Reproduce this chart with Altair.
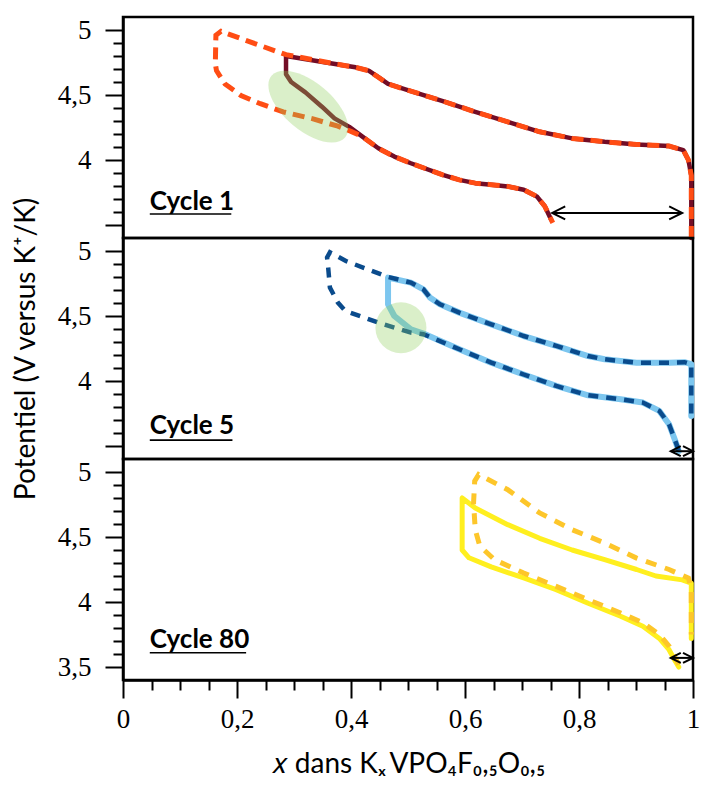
import altair as alt
import pandas as pd

# ---------------- data ----------------
# Cycle 1 : solid (dark red) and dashed (orange)
c1_solid_x = [0.997, 0.997, 0.992, 0.983, 0.958, 0.901, 0.845, 0.788, 0.731, 0.675, 0.618, 0.561, 0.505,
              0.465, 0.448, 0.431, 0.408, 0.391, 0.286, 0.286, 0.295, 0.320, 0.349, 0.371, 0.397, 0.420,
              0.448, 0.476, 0.505, 0.561, 0.590, 0.618, 0.646, 0.675, 0.703, 0.726, 0.740, 0.751]
c1_solid_y = [3.40, 3.88, 4.00, 4.076, 4.107, 4.12, 4.14, 4.166, 4.217, 4.293, 4.37, 4.453, 4.53,
              4.585, 4.637, 4.687, 4.713, 4.725, 4.80, 4.66, 4.60, 4.52, 4.41, 4.32, 4.255, 4.18,
              4.09, 4.026, 3.975, 3.885, 3.847, 3.822, 3.81, 3.797, 3.771, 3.72, 3.644, 3.542]
c1_dash_x = [0.997, 0.997, 0.992, 0.983, 0.958, 0.901, 0.845, 0.788, 0.731, 0.675, 0.618, 0.561, 0.505,
             0.465, 0.448, 0.431, 0.408, 0.391, 0.286, 0.218, 0.172, 0.163, 0.162, 0.164, 0.179, 0.207,
             0.241, 0.281, 0.332, 0.377, 0.400, 0.420, 0.448, 0.476, 0.505, 0.561, 0.590, 0.618, 0.646,
             0.675, 0.703, 0.726, 0.740, 0.754]
c1_dash_y = [3.40, 3.88, 4.00, 4.076, 4.107, 4.12, 4.14, 4.166, 4.217, 4.293, 4.37, 4.453, 4.53,
             4.585, 4.637, 4.687, 4.713, 4.725, 4.81, 4.916, 4.99, 4.96, 4.74, 4.687, 4.585, 4.496,
             4.433, 4.37, 4.318, 4.26, 4.22, 4.18, 4.09, 4.026, 3.975, 3.885, 3.847, 3.822, 3.81,
             3.797, 3.771, 3.72, 3.644, 3.517]

# Cycle 5 : solid (light blue) and dashed (dark blue)
c5_solid_x = [0.997, 0.997, 0.985, 0.958, 0.901, 0.845, 0.816, 0.760, 0.703, 0.646, 0.590, 0.556, 0.539,
              0.527, 0.505, 0.465, 0.465, 0.476, 0.505, 0.527, 0.590, 0.646, 0.703, 0.760, 0.816, 0.873,
              0.912, 0.941, 0.958, 0.969, 0.975]
c5_solid_y = [3.73, 4.13, 4.145, 4.141, 4.141, 4.167, 4.192, 4.27, 4.346, 4.436, 4.526, 4.59, 4.64,
              4.705, 4.757, 4.795, 4.59, 4.50, 4.398, 4.365, 4.244, 4.141, 4.05, 3.962, 3.89, 3.859,
              3.834, 3.77, 3.667, 3.538, 3.46]
c5_dash_x = [0.997, 0.997, 0.985, 0.958, 0.901, 0.845, 0.816, 0.760, 0.703, 0.646, 0.590, 0.556, 0.539,
             0.527, 0.505, 0.465, 0.391, 0.363, 0.358, 0.360, 0.363, 0.377, 0.390, 0.448, 0.505, 0.527,
             0.590, 0.646, 0.703, 0.760, 0.816, 0.873, 0.912, 0.941, 0.958, 0.969, 0.977]
c5_dash_y = [3.75, 4.13, 4.145, 4.141, 4.141, 4.167, 4.192, 4.27, 4.346, 4.436, 4.526, 4.59, 4.64,
             4.705, 4.757, 4.80, 4.923, 4.99, 4.95, 4.87, 4.718, 4.603, 4.54, 4.449, 4.372, 4.36,
             4.244, 4.141, 4.05, 3.962, 3.89, 3.859, 3.834, 3.77, 3.667, 3.538, 3.44]

# Cycle 80 : solid (yellow) and dashed (gold)
c80_solid_x = [0.997, 0.997, 0.981, 0.935, 0.901, 0.845, 0.788, 0.731, 0.675, 0.618, 0.595, 0.595,
               0.607, 0.646, 0.703, 0.760, 0.816, 0.873, 0.912, 0.941, 0.958, 0.969, 0.975]
c80_solid_y = [3.72, 4.146, 4.17, 4.20, 4.25, 4.326, 4.40, 4.49, 4.595, 4.723, 4.80, 4.40,
               4.34, 4.27, 4.185, 4.095, 3.99, 3.89, 3.813, 3.72, 3.633, 3.544, 3.50]
c80_dash_x = [0.975, 0.958, 0.941, 0.912, 0.873, 0.816, 0.760, 0.703, 0.652, 0.626, 0.618, 0.615,
              0.617, 0.624, 0.675, 0.731, 0.788, 0.845, 0.901, 0.958, 0.992, 0.997, 0.997]
c80_dash_y = [3.518, 3.66, 3.75, 3.84, 3.915, 4.018, 4.12, 4.223, 4.325, 4.43, 4.556, 4.76,
              4.93, 4.98, 4.864, 4.685, 4.556, 4.454, 4.338, 4.25, 4.185, 4.10, 3.75]

cycle_labels = ["Cycle 1", "Cycle 5", "Cycle 80"]
y_ticks = [3.5, 3.6, 3.7, 3.8, 3.9, 4.0, 4.1, 4.2, 4.3, 4.4, 4.5, 4.6, 4.7, 4.8, 4.9, 5.0]
x_ticks = [0.0, 0.05, 0.1, 0.15, 0.2, 0.25, 0.3, 0.35, 0.4, 0.45, 0.5, 0.55, 0.6, 0.65, 0.7, 0.75,
           0.8, 0.85, 0.9, 0.95, 1.0]

# ---------------- styling ----------------
W, H = 570, 221
Y_DOMAIN = [3.4, 5.1]
X_DOMAIN = [0, 1]
SERIF = "Liberation Serif"
SANS = "Lato"
ELLIPSE = ("M1,0 C1,0.276 0.552,0.5 0,0.5 C-0.552,0.5 -1,0.276 -1,0 "
           "C-1,-0.276 -0.552,-0.5 0,-0.5 C0.552,-0.5 1,-0.276 1,0 Z")
HEAD_L = "M2,-1L0,0L2,1"
HEAD_R = "M-2,-1L0,0L-2,1"


def frame(xs, ys):
    return pd.DataFrame({"x": xs, "y": ys, "i": list(range(len(xs)))})


def y_axis(show35, title=None):
    major = "abs(datum.value*2 - round(datum.value*2)) < 0.01"
    lab = major if show35 else f"({major}) && datum.value > 3.75"
    kw = dict(
        values=y_ticks, tickCount=200,
        labelExpr=f"({lab}) ? replace(format(datum.value, '~g'), '.', ',') : ''",
        tickSize={"condition": {"test": major, "value": 18}, "value": 10},
        tickWidth=2, tickColor="black", domainColor="black", domainWidth=2.5,
        labelFont=SERIF, labelFontSize=27, labelColor="black", labelPadding=14,
        grid=False, labelOverlap=False, labelBound=False, labelFlush=False,
    )
    if title:
        kw.update(title=title, titleFont=SANS, titleFontSize=28, titleFontWeight="normal",
                  titleColor="black", titlePadding=17)
    else:
        kw.update(title=None)
    return alt.Axis(**kw)


def x_axis(show):
    if not show:
        return None
    major = "abs(datum.value*5 - round(datum.value*5)) < 0.01"
    return alt.Axis(
        values=x_ticks, tickCount=200,
        labelExpr=f"({major}) ? replace(format(datum.value, '~g'), '.', ',') : ''",
        tickSize={"condition": {"test": major, "value": 18}, "value": 10},
        tickWidth=2, tickColor="black", domainColor="black", domainWidth=2.5,
        labelFont=SERIF, labelFontSize=27, labelColor="black", labelPadding=8,
        grid=False, labelOverlap=False, labelFlush=False,
        title="𝑥 dans Kₓ\u2009VPO₄F₀,₅O₀,₅", titleFont=SANS, titleFontSize=28,
        titleFontWeight="normal", titleColor="black", titlePadding=18,
    )


def panel(solid, dashed, solid_color, solid_w, dash_color, dash_w, dash,
          label, label_xy, underline, arrow, head_size, ellipse, show35, ytitle, bottom):
    xs = alt.Scale(domain=X_DOMAIN, nice=False, zero=False)
    ys = alt.Scale(domain=Y_DOMAIN, nice=False, zero=False)
    xenc = alt.X("x:Q", scale=xs, axis=x_axis(bottom))
    yenc = alt.Y("y:Q", scale=ys, axis=y_axis(show35, ytitle))

    base_solid = alt.Chart(frame(*solid)).mark_line(
        color=solid_color, strokeWidth=solid_w, strokeJoin="round", strokeCap="round"
    ).encode(x=xenc, y=yenc, order="i:Q")
    base_dash = alt.Chart(frame(*dashed)).mark_line(
        color=dash_color, strokeWidth=dash_w, strokeDash=dash, strokeCap="butt"
    ).encode(x="x:Q", y="y:Q", order="i:Q")

    layers = [base_solid, base_dash]

    if ellipse is not None:
        ex, ey, esize, eangle, eshape = ellipse
        layers.append(alt.Chart(pd.DataFrame({"x": [ex], "y": [ey]})).mark_point(
            shape=eshape, size=esize, angle=eangle, filled=True, fill="#8fce5a",
            fillOpacity=0.33, strokeWidth=0, opacity=1
        ).encode(x="x:Q", y="y:Q"))

    ax1, ax2, ay = arrow
    arr = pd.DataFrame({"x": [ax1], "x2": [ax2], "y": [ay]})
    layers.append(alt.Chart(arr).mark_rule(color="black", strokeWidth=2).encode(
        x="x:Q", x2="x2:Q", y="y:Q"))
    layers.append(alt.Chart(pd.DataFrame({"x": [ax1], "y": [ay]})).mark_point(
        shape=HEAD_L, size=head_size, filled=False, stroke="black", strokeWidth=2, opacity=1
    ).encode(x="x:Q", y="y:Q"))
    layers.append(alt.Chart(pd.DataFrame({"x": [ax2], "y": [ay]})).mark_point(
        shape=HEAD_R, size=head_size, filled=False, stroke="black", strokeWidth=2, opacity=1
    ).encode(x="x:Q", y="y:Q"))

    lx, ly = label_xy
    layers.append(alt.Chart(pd.DataFrame({"x": [lx], "y": [ly], "t": [label]})).mark_text(
        font=SANS, fontSize=26, fontWeight="bold", color="black", align="left", baseline="alphabetic"
    ).encode(x="x:Q", y="y:Q", text="t:N"))
    ux1, ux2, uy = underline
    layers.append(alt.Chart(pd.DataFrame({"x": [ux1], "x2": [ux2], "y": [uy]})).mark_rule(
        color="black", strokeWidth=1.6).encode(x="x:Q", x2="x2:Q", y="y:Q"))

    return alt.layer(*layers).properties(width=W, height=H)


p1 = panel((c1_solid_x, c1_solid_y), (c1_dash_x, c1_dash_y),
           "#730d26", 4.5, "#ff4d14", 5, [12, 7],
           cycle_labels[0], (0.047, 3.615), (0.047, 0.190, 3.585),
           (0.753, 0.981, 3.593), 169,
           (0.325, 4.41, 9216, 40, ELLIPSE), False, None, False)
p2 = panel((c5_solid_x, c5_solid_y), (c5_dash_x, c5_dash_y),
           "#7cc6ef", 6, "#0a4b8c", 4.5, [10, 8],
           cycle_labels[1], (0.047, 3.59), (0.047, 0.192, 3.545),
           (0.961, 1.0, 3.46), 100,
           (0.4876, 4.41, 2601, 0, "circle"), False, "Potentiel (V versus K⁺/K)", False)
p3 = panel((c80_solid_x, c80_solid_y), (c80_dash_x, c80_dash_y),
           "#ffef1f", 5, "#fdc62a", 5, [11, 9],
           cycle_labels[2], (0.047, 3.646), (0.047, 0.216, 3.61),
           (0.961, 1.0, 3.57), 100,
           None, True, None, True)

chart = alt.vconcat(p1, p2, p3, spacing=0, bounds="flush").properties(
    padding={"left": 2, "top": 6, "right": 0, "bottom": 0}
).configure(
    font=SANS, background="white"
).configure_view(stroke="black", strokeWidth=2.5)

chart.save("out.html", embed_options={"renderer": "svg", "actions": False})
